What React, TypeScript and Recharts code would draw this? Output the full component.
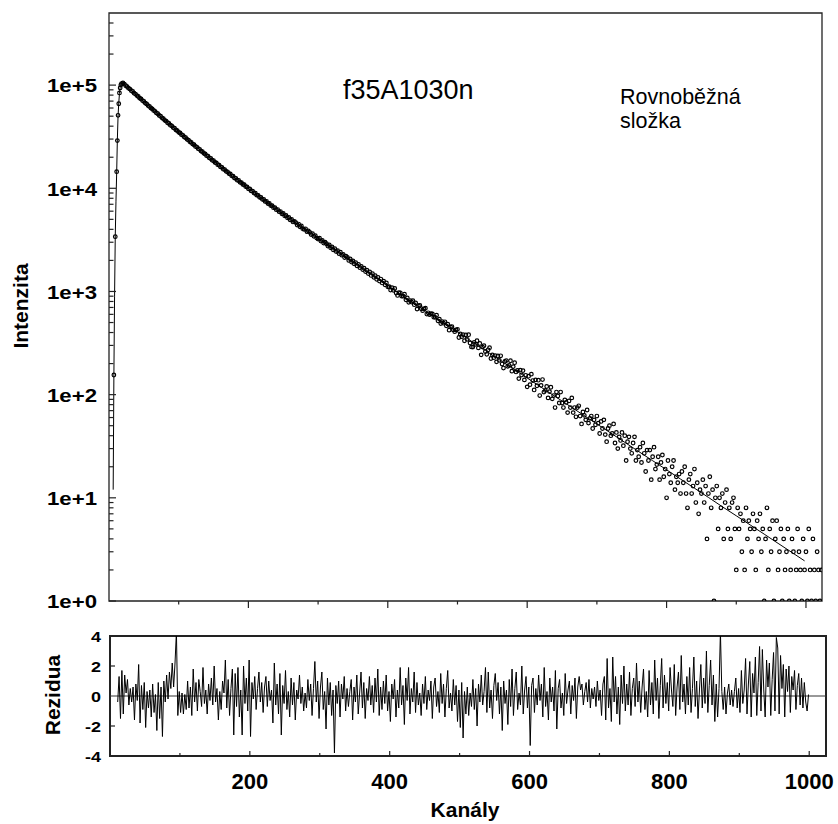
import { ComposedChart, Scatter, Line, XAxis, YAxis, ReferenceArea, ReferenceLine } from 'recharts';

const FONT = "'Liberation Sans', Arial, Helvetica, sans-serif";

// measured counts on the rising edge (channel -> counts)
const riseChannels = [7, 9, 11, 12, 13, 14, 15, 16, 17, 18];
const riseCounts = [155, 3400, 14500, 29000, 51000, 66000, 84000, 94000, 100500, 103500];

// measured counts, channels 20..400, every 2nd channel
const denseStart = 20;
const denseStep = 2;
const denseCounts = [
  105200, 102300, 98600, 96900, 93300, 91500, 88300, 86700, 83500, 81900,
  79100, 77600, 74800, 73400, 70800, 69500, 67000, 65700, 63400, 62200,
  60000, 58900, 56800, 55700, 53800, 52800, 50900, 49900, 48200, 47300,
  45600, 44800, 43200, 42500, 40900, 40300, 38800, 38200, 36800, 36200,
  34900, 34350, 33100, 32600, 31400, 30950, 29800, 29350, 28250, 27850,
  26800, 26450, 25450, 25100, 24200, 23850, 22950, 22650, 21800, 21500,
  20700, 20450, 19700, 19450, 18720, 18500, 17810, 17600, 16930, 16740,
  16100, 15950, 15330, 15170, 14590, 14450, 13880, 13760, 13210, 13100,
  12580, 12480, 11990, 11900, 11420, 11350, 10890, 10830, 10380, 10310,
  9890, 9840, 9440, 9390, 9000, 8950, 8580, 8540, 8190, 8150,
  7810, 7790, 7460, 7450, 7120, 7120, 6800, 6800, 6490, 6500,
  6200, 6220, 5930, 5950, 5660, 5700, 5410, 5450, 5170, 5220,
  4940, 4990, 4720, 4770, 4650, 4410, 4500, 4240, 4310, 4060,
  3990, 4050, 3800, 3860, 3740, 3560, 3630, 3420, 3480, 3290,
  3220, 3290, 3080, 3130, 2950, 3010, 2900, 2760, 2820, 2650,
  2700, 2530, 2600, 2440, 2480, 2330, 2400, 2250, 2290, 2130,
  2200, 2140, 2000, 2070, 1930, 1980, 1850, 1900, 1770, 1830,
  1700, 1750, 1630, 1680, 1560, 1610, 1490, 1550, 1430, 1490,
  1370, 1420, 1310, 1370, 1260, 1320, 1210, 1260, 1160, 1210,
  1110,
];

// measured counts, channels 402..1022, every 2nd channel
const tailStart = 402;
const tailStep = 2;
const tailCounts = [
  1113, 1031, 1090, 1027, 1071, 965, 915, 972, 971, 901,
  901, 942, 830, 864, 784, 816, 791, 815, 744, 773,
  675, 727, 733, 680, 652, 678, 688, 604, 621, 596,
  608, 607, 563, 562, 589, 519, 540, 489, 510, 493,
  508, 465, 483, 422, 454, 457, 424, 408, 424, 430,
  358, 388, 365, 381, 333, 380, 344, 381, 317, 290,
  289, 321, 308, 333, 284, 313, 243, 289, 298, 262,
  246, 272, 285, 224, 243, 228, 239, 208, 237, 215,
  238, 198, 181, 210, 214, 188, 192, 213, 169, 187,
  204, 166, 172, 143, 173, 155, 171, 139, 154, 119,
  151, 125, 158, 137, 111, 139, 122, 138, 98, 123,
  140, 106, 110, 120, 93, 107, 118, 91, 98, 75,
  106, 97, 83, 106, 83, 75, 89, 84, 67, 87,
  75, 93, 67, 75, 61, 75, 78, 62, 52, 68,
  63, 57, 71, 53, 59, 62, 47, 57, 51, 62,
  53, 42, 55, 47, 57, 41, 35, 47, 50, 40,
  42, 52, 34, 43, 30, 39, 36, 43, 32, 40,
  23, 35, 39, 30, 27, 34, 39, 23, 29, 25,
  31, 22, 34, 27, 18, 29, 23, 29, 15, 25,
  31, 19, 21, 25, 15, 22, 26, 16, 19, 10,
  23, 17, 14, 20, 23, 12, 16, 14, 17, 11,
  18, 14, 20, 11, 8, 15, 17, 11, 13, 19,
  9, 14, 7, 12, 11, 15, 9, 13, 4, 11,
  16, 8, 12, 1, 10, 13, 5, 10, 8, 11,
  4, 9, 12, 5, 8, 4, 9, 10, 5, 2,
  8, 5, 7, 3, 6, 2, 8, 4, 6, 5,
  3, 7, 5, 2, 6, 4, 7, 3, 5, 1,
  4, 8, 2, 5, 3, 6, 1, 4, 6, 2,
  3, 5, 1, 4, 2, 3, 5, 1, 2, 4,
  3, 1, 2, 5, 3, 2, 1, 4, 2, 3,
  1, 5, 2, 1, 4, 2, 1, 3, 2, 1,
  2,
];

// fitted decay curve
const fitChannels = [
  6, 7, 8, 9, 10, 11, 12, 13, 14, 15, 16, 17, 18, 19, 20,
  40, 60, 80, 100, 120, 140, 160, 180, 200, 220, 240, 260, 280, 300, 320, 340,
  360, 380, 400, 420, 440, 460, 480, 500, 520, 540, 560, 580, 600, 620, 640, 660,
  680, 700, 720, 740, 760, 780, 800, 820, 840, 860, 880, 900, 920, 940, 960, 980, 998,
];
const fitValues = [
  12, 150, 900, 3500, 7500, 14000, 30000, 50000, 67000, 83000, 95000, 100000, 103000, 104500, 104700,
  79400, 60260, 45810, 35080, 26980, 20840, 16220, 12680, 9980, 7890, 6280, 5020, 4040, 3270, 2649, 2148,
  1742, 1413, 1146, 916, 746, 608, 495, 404, 329, 268, 218, 178, 145, 118, 96.2, 78.3,
  63.8, 52, 42.4, 34.5, 28.1, 22.9, 18.7, 15.2, 12.4, 10.1, 8.2, 6.7, 5.46, 4.45, 3.62, 2.95, 2.45,
];

// weighted residuals, channels 11..999, every 2nd channel
const residStart = 11;
const residStep = 2;
const residuals = [
  -0.4, 1.3, -1.5, 1.7, -1.2, 1.4, 0.2, 1.1, -0.6, 0.5,
  -0.4, 0.6, -1.6, 0.8, -0.3, 2.1, -1.8, 0.7, -0.9, 0.9,
  -2.1, 0.3, -0.8, 0.4, -1.4, 0.8, -1.1, 0.1, -2.3, 0.9,
  -1.5, 0.6, -2.7, 1.0, -0.4, 1.4, -0.2, 1.6, 0.5, 2.2,
  0.6, 2.2, 4.3, -1.3, 0.3, -1.1, 0.2, -1.2, 0.1, -0.9,
  1.0, -0.8, 0.6, -1.3, 1.8, -0.4, 0.9, -1.0, 1.1, 0.3,
  -0.7, 1.9, -0.5, 0.4, -1.2, 0.8, -0.3, 1.2, -0.6, 2.0,
  -0.4, 0.5, -1.6, 0.3, -0.9, 1.0, 0.2, 2.4, -0.8, 1.1,
  -1.3, 0.5, 1.8, -2.6, 1.5, -0.7, 1.9, -1.4, 0.4, -2.6,
  2.0, -0.5, 1.2, -1.0, 2.4, -2.7, 0.9, -0.2, 1.3, -0.9,
  0.5, 1.6, -0.4, 0.9, -1.1, 0.6, 1.3, -0.7, 1.0, -0.3,
  0.4, -1.8, 2.2, -0.6, 0.8, -1.2, 1.5, -2.6, 0.7, -0.5,
  1.7, -0.9, 0.3, -1.4, 1.2, -0.6, 0.9, -1.6, 0.4, -0.2,
  1.4, -0.5, 0.6, -1.0, 0.2, -0.8, 1.1, -0.3, 0.8, -1.3,
  0.5, 2.3, -0.4, 1.0, -1.5, 0.6, 1.6, -0.9, 0.3, -2.2,
  1.2, -0.6, 0.9, -1.3, 0.4, -3.8, 0.7, -0.5, 1.0, -1.4,
  0.8, -0.2, 1.3, -1.0, 0.5, -0.7, 0.3, 1.1, -1.6, 0.6,
  -0.4, 1.4, -1.2, 0.2, 1.6, -0.8, 0.9, -1.5, 0.5, -0.3,
  1.3, -0.6, 0.7, -1.1, 1.2, -0.4, 1.8, -1.3, 0.6, -0.9,
  1.0, -0.5, 1.4, -1.0, 0.3, -1.7, 0.8, -0.2, 1.1, -1.4,
  0.4, -0.8, 1.9, -0.6, 0.7, -1.9, 1.2, -0.3, 1.9, -1.2,
  0.5, -0.4, 1.6, -1.1, 0.9, -0.6, 0.2, -1.3, 0.8, -0.5,
  1.3, -0.9, 0.4, -0.3, 1.0, -1.5, 0.6, 1.2, -0.7, 0.3,
  -1.1, 1.5, -0.5, 0.8, -1.4, 0.5, 1.7, -0.8, 0.2, -1.0,
  1.1, -0.6, 0.7, -1.7, 0.4, -2.1, 0.9, -2.8, 0.3, -1.2,
  0.6, -1.3, 0.2, -0.7, 1.1, -0.9, 0.5, -2.0, 0.8, -0.4,
  1.4, -0.6, 0.3, 1.9, -1.1, 1.6, -0.8, 0.4, -1.5, 0.7,
  1.5, -0.3, 0.9, -1.2, 0.6, -2.3, 1.0, -0.5, 0.4, -1.9,
  1.1, -0.7, 1.8, -1.3, 0.5, 1.6, -0.9, 0.2, -0.6, 2.0,
  -1.2, 0.4, 1.3, -0.8, 0.6, -3.3, 0.7, 1.2, -1.1, 0.5,
  -0.6, 1.4, -0.3, 0.8, -1.4, 1.9, -0.7, 0.3, -1.6, 1.2,
  -0.4, 0.6, -1.0, 1.7, -2.2, 0.5, 1.1, -0.8, 0.2, -1.3,
  1.5, -0.5, 0.4, 1.0, -1.2, 0.7, -0.3, 1.2, -1.5, 0.6,
  1.3, 0.4, 0.8, -0.6, 0.3, 0.9, -0.4, 1.1, -0.8, 0.5,
  -0.2, 0.6, -0.7, 1.0, -0.3, 0.4, -1.3, 0.8, 1.3, -1.6,
  2.5, -0.8, 0.5, -1.7, 2.6, -0.4, 1.3, -1.2, 0.6, -1.9,
  1.4, -0.5, 2.0, -1.0, 0.8, -0.6, 1.6, -1.3, 0.5, 1.2,
  -0.7, 2.2, -0.4, 1.0, -1.1, 0.6, 1.8, -0.9, 0.3, -1.4,
  1.7, -0.6, 0.9, -1.2, 2.4, -0.3, 1.2, -1.5, 0.7, 2.5,
  -0.8, 1.4, -0.5, 0.9, -1.0, 1.9, 0.4, -0.7, 2.1, -1.3,
  0.6, 1.6, -0.9, 2.7, -0.4, 0.8, -1.2, 1.3, -0.6, 1.9,
  -1.1, 0.5, 2.6, -0.7, 1.0, -1.5, 0.4, 2.1, -0.8, 1.2,
  -0.5, 3.0, -1.1, 0.7, 2.4, -0.6, 1.4, -1.7, 0.8, -1.4,
  0.5, 4.3, 0.3, -0.9, 0.6, -1.2, 0.2, 0.8, -0.6, 0.4,
  -0.7, 0.3, 1.2, -0.8, 0.5, -1.1, 1.7, -0.5, 0.4, 2.5,
  -1.2, 0.8, 2.3, -1.4, 1.5, 0.2, 2.6, -1.3, 0.9, 3.3,
  -1.0, 3.1, 0.4, -1.4, 2.4, 0.6, 2.2, -1.3, 1.1, 2.9,
  -1.0, 3.9, 3.2, -1.2, 2.7, 0.5, 2.1, -1.4, 1.8, 0.3,
  2.0, -1.1, 1.3, 0.4, 1.7, -0.9, 0.7, 1.5, -0.6, 1.2,
  -0.8, 0.9, -0.4, -1.0, 0.1,
];

const yMajor = [1, 10, 100, 1000, 10000, 100000];
const yMinor = [
  2, 3, 4, 5, 6, 7, 8, 9,
  20, 30, 40, 50, 60, 70, 80, 90,
  200, 300, 400, 500, 600, 700, 800, 900,
  2000, 3000, 4000, 5000, 6000, 7000, 8000, 9000,
  20000, 30000, 40000, 50000, 60000, 70000, 80000, 90000,
  200000, 300000, 400000,
];
const xTicks = [100, 200, 300, 400, 500, 600, 700, 800, 900, 1000];
const residTicks = [-4, -2, 0, 2, 4];

const scatterData = [
  ...riseChannels.map((ch, i) => ({ ch, v: riseCounts[i] })),
  ...denseCounts.map((v, i) => ({ ch: denseStart + i * denseStep, v })),
  ...tailCounts.map((v, i) => ({ ch: tailStart + i * tailStep, v })),
].filter(d => d.v > 0);

const fitData = fitChannels.map((ch, i) => ({ ch, v: fitValues[i] }));
const residData = residuals.map((r, i) => ({ ch: residStart + i * residStep, r }));
const logTicks = [...yMajor, ...yMinor].sort((a, b) => a - b);

// top panel plot box: x 109..822, y 13..601
const TOP_LEFT = 109;
const TOP_BOTTOM = 601;
// bottom panel plot box (chart coords): x 110..826, y 36..156
const BOT_LEFT = 110;
const BOT_BOTTOM = 156;

function Ring(props: any) {
    return <circle cx={props.cx} cy={props.cy} r={1.8} fill="none" stroke="#000" strokeWidth={1.2} />;
}

function LogTick(props: any) {
    const { y, payload } = props;
    const major = yMajor.includes(payload.value);
    return (
        <g>
            <line x1={TOP_LEFT} x2={TOP_LEFT + (major ? 7 : 4.5)} y1={y} y2={y} stroke="#222" strokeWidth={1.2} />
            {major && (
                <text
                    transform={`translate(97,${y + 7.3}) scale(1.2,1)`}
                    textAnchor="end"
                    fontFamily={FONT}
                    fontWeight="bold"
                    fontSize={18.5}
                    fill="#000"
                >
                    {`1e+${Math.round(Math.log10(payload.value))}`}
                </text>
            )}
        </g>
    );
}

function TopXTick(props: any) {
    const { x, payload } = props;
    const major = payload.value % 200 === 0;
    return <line x1={x} x2={x} y1={TOP_BOTTOM} y2={TOP_BOTTOM + (major ? 7 : 3.5)} stroke="#222" strokeWidth={1.2} />;
}

function BottomXTick(props: any) {
    const { x, payload } = props;
    const major = payload.value % 200 === 0;
    return (
        <g>
            <line x1={x} x2={x} y1={BOT_BOTTOM} y2={BOT_BOTTOM - (major ? 5 : 3)} stroke="#222" strokeWidth={1.2} />
            {major && (
                <text x={x} y={189} textAnchor="middle" fontFamily={FONT} fontWeight="bold" fontSize={22} fill="#000">
                    {payload.value}
                </text>
            )}
        </g>
    );
}

function ResidTick(props: any) {
    const { y, payload } = props;
    const v = payload.value;
    return (
        <g>
            {Math.abs(v) === 2 && <line x1={BOT_LEFT} x2={BOT_LEFT + 5} y1={y} y2={y} stroke="#222" strokeWidth={1.2} />}
            <text
                transform={`translate(101,${y + 6}) scale(1.2,1)`}
                textAnchor="end"
                fontFamily={FONT}
                fontWeight="bold"
                fontSize={15}
                fill="#000"
            >
                {v}
            </text>
        </g>
    );
}

export default function App() {
    return (
        <div style={{ position: 'absolute', left: 0, top: 0, width: 838, height: 824, background: '#fff' }}>
            {/* Decay curve */}
            <div style={{ position: 'absolute', left: 0, top: 0 }}>
                <ComposedChart width={838} height={640} margin={{ top: 13, right: 16, bottom: 19, left: 9 }}>
                    <XAxis
                        type="number"
                        dataKey="ch"
                        domain={[0, 1023]}
                        ticks={xTicks}
                        interval={0}
                        tick={<TopXTick />}
                        tickLine={false}
                        axisLine={false}
                        tickSize={0}
                        tickMargin={0}
                        height={20}
                        allowDataOverflow
                    />
                    <YAxis
                        type="number"
                        dataKey="v"
                        scale="log"
                        domain={[1, 500000]}
                        ticks={logTicks}
                        interval={0}
                        tick={<LogTick />}
                        tickLine={false}
                        axisLine={false}
                        tickSize={0}
                        tickMargin={0}
                        width={100}
                        allowDataOverflow
                    />
                    <Scatter data={scatterData} dataKey="v" shape={Ring} isAnimationActive={false} />
                    <Line data={fitData} dataKey="v" type="linear" stroke="#000" strokeWidth={1} dot={false} isAnimationActive={false} />
                    <ReferenceArea x1={0} x2={1023} y1={1} y2={500000} fill="none" stroke="#222" strokeWidth={1.3} />
                    <text x={343} y={98.5} fontFamily={FONT} fontSize={27} fill="#000">f35A1030n</text>
                    <text x={620} y={104} fontFamily={FONT} fontSize={21.5} fill="#000">Rovnoběžná</text>
                    <text x={620} y={128} fontFamily={FONT} fontSize={21.5} fill="#000">složka</text>
                    <text transform="translate(28,306) rotate(-90)" textAnchor="middle" fontFamily={FONT} fontWeight="bold" fontSize={21} fill="#000">
                        Intenzita
                    </text>
                </ComposedChart>
            </div>

            {/* Residuals */}
            <div style={{ position: 'absolute', left: 0, top: 600 }}>
                <ComposedChart width={838} height={224} margin={{ top: 36, right: 12, bottom: 0, left: 10 }}>
                    <XAxis
                        type="number"
                        dataKey="ch"
                        domain={[0, 1024]}
                        ticks={xTicks}
                        interval={0}
                        tick={<BottomXTick />}
                        tickLine={false}
                        axisLine={false}
                        tickSize={0}
                        tickMargin={0}
                        height={68}
                        allowDataOverflow
                    />
                    <YAxis
                        type="number"
                        dataKey="r"
                        domain={[-4, 4]}
                        ticks={residTicks}
                        interval={0}
                        tick={<ResidTick />}
                        tickLine={false}
                        axisLine={false}
                        tickSize={0}
                        tickMargin={0}
                        width={100}
                        allowDataOverflow
                    />
                    <ReferenceLine y={0} stroke="#333" strokeWidth={1} />
                    <Line data={residData} dataKey="r" type="linear" stroke="#000" strokeWidth={1} dot={false} isAnimationActive={false} />
                    <ReferenceArea x1={0} x2={1024} y1={-4} y2={4} fill="none" stroke="#222" strokeWidth={2} />
                    <text transform="translate(60,95) rotate(-90)" textAnchor="middle" fontFamily={FONT} fontWeight="bold" fontSize={21} fill="#000">
                        Rezidua
                    </text>
                    <text x={465} y={217} textAnchor="middle" fontFamily={FONT} fontWeight="bold" fontSize={21} fill="#000">
                        Kanály
                    </text>
                </ComposedChart>
            </div>
        </div>
    );
}
